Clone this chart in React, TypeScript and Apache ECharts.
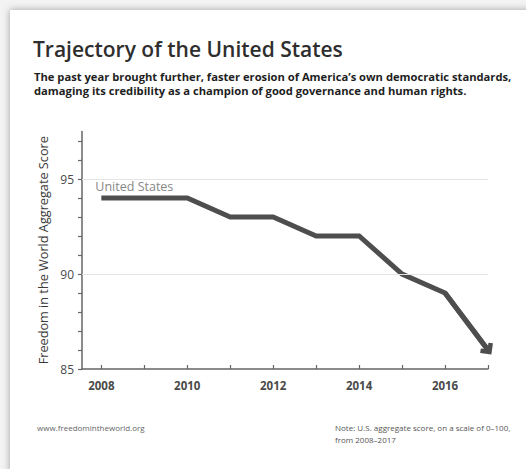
import React, { useEffect, useRef } from "react";
import * as echarts from "echarts";

// Freedom in the World aggregate score for the United States
const years = [2008, 2009, 2010, 2011, 2012, 2013, 2014, 2015, 2016, 2017];
const scores = [94, 94, 94, 93, 93, 92, 92, 90, 89, 86];

const yTickValues = [85, 86, 87, 88, 89, 90, 91, 92, 93, 94, 95, 96, 97];
const yLabelValues = [85, 90, 95];
const xTickValues = [2008, 2009, 2010, 2011, 2012, 2013, 2014, 2015, 2016, 2017];
const xLabelValues = [2008, 2010, 2012, 2014, 2016];
const gridLineValues = [90, 95];

const seriesName = "United States";
const titleText = "Trajectory of the United States";
const subtitleLines = [
  "The past year brought further, faster erosion of America\u2019s own democratic standards,",
  "damaging its credibility as a champion of good governance and human rights.",
];
const yAxisName = "Freedom in the World Aggregate Score";
const sourceText = "www.freedomintheworld.org";
const noteLines = [
  "Note: U.S. aggregate score, on a scale of 0\u2013100,",
  "from 2008\u20132017",
];

const FONT = "'Open Sans', Lato, sans-serif";
const LINE_COLOR = "#4e4e4e";

export default function App() {
  const ref = useRef<HTMLDivElement>(null);

  useEffect(() => {
    if (!ref.current) return;
    const chart = echarts.init(ref.current, undefined, { renderer: "svg" });

    const points = years.map((y, i) => [y, scores[i]]);
    const n = points.length;

    chart.setOption({
      animation: false,
      textStyle: { fontFamily: FONT },
      grid: { left: 82, right: 38, top: 131.5, bottom: 100, containLabel: false },
      graphic: [
        {
          type: "text",
          x: 33,
          y: 49,
          style: {
            text: titleText,
            font: `600 21px ${FONT}`,
            fill: "#2e2e2e",
            verticalAlign: "middle",
          },
        },
        {
          type: "text",
          x: 34,
          y: 76,
          style: {
            text: subtitleLines[0],
            font: `bold 11.2px ${FONT}`,
            fill: "#1e1e1e",
            verticalAlign: "middle",
          },
        },
        {
          type: "text",
          x: 34,
          y: 90,
          style: {
            text: subtitleLines[1],
            font: `bold 11.2px ${FONT}`,
            fill: "#1e1e1e",
            verticalAlign: "middle",
          },
        },
        {
          type: "text",
          x: 37,
          y: 427,
          style: {
            text: sourceText,
            font: `8px ${FONT}`,
            fill: "#666",
            verticalAlign: "middle",
          },
        },
        {
          type: "text",
          x: 335,
          y: 427,
          style: {
            text: noteLines[0],
            font: `8px ${FONT}`,
            fill: "#555",
            verticalAlign: "middle",
          },
        },
        {
          type: "text",
          x: 335,
          y: 439,
          style: {
            text: noteLines[1],
            font: `8px ${FONT}`,
            fill: "#555",
            verticalAlign: "middle",
          },
        },
      ],
      xAxis: {
        type: "value",
        min: 2007.55,
        max: 2017,
        splitLine: { show: false },
        axisLine: { lineStyle: { color: "#666", width: 1.5 } },
        axisTick: {
          show: true,
          inside: true,
          length: 4,
          customValues: xTickValues,
          lineStyle: { color: "#666", width: 1.2 },
        },
        axisLabel: {
          customValues: xLabelValues,
          color: "#4a4a4a",
          fontSize: 11.5,
          fontWeight: "bold",
          margin: 10,
          formatter: (v: number) => String(v),
        },
      },
      yAxis: {
        type: "value",
        min: 85,
        max: 97.5,
        name: yAxisName,
        nameLocation: "middle",
        nameGap: 32,
        nameTextStyle: { color: "#3a3a3a", fontSize: 12.7, fontFamily: FONT },
        splitLine: { show: false },
        axisLine: { show: true, lineStyle: { color: "#666", width: 1.5 } },
        axisTick: {
          show: true,
          length: 4,
          customValues: yTickValues,
          lineStyle: { color: "#666", width: 1.2 },
        },
        axisLabel: {
          customValues: yLabelValues,
          color: "#4a4a4a",
          fontSize: 12,
          margin: 8,
        },
      },
      series: [
        {
          type: "line",
          name: "grid",
          data: [],
          silent: true,
          markLine: {
            silent: true,
            symbol: "none",
            label: { show: false },
            lineStyle: { color: "#e4e4e4", width: 1, type: "solid" },
            emphasis: { disabled: true },
            data: gridLineValues.map((v) => ({ yAxis: v })),
          },
          // series name printed above its first point
          markPoint: {
            silent: true,
            symbol: "circle",
            symbolSize: 1,
            itemStyle: { color: "rgba(0,0,0,0)" },
            label: {
              show: true,
              formatter: seriesName,
              position: "top",
              align: "left",
              distance: 5,
              offset: [-6, 0],
              color: "#878787",
              fontSize: 12.5,
              fontFamily: FONT,
            },
            data: [{ coord: points[0] }],
          },
        },
        {
          type: "line",
          name: seriesName,
          data: points,
          symbol: "none",
          lineStyle: { color: LINE_COLOR, width: 5, join: "miter" },
          itemStyle: { color: LINE_COLOR },
          markLine: {
            silent: true,
            symbol: ["none", "path://M5,0 L10,5 L8,7 L5,4 L2,7 L0,5 Z"],
            symbolSize: [16, 11.2],
            label: { show: false },
            lineStyle: { color: LINE_COLOR, width: 5, type: "solid" },
            emphasis: { disabled: true },
            data: [[{ coord: points[n - 2] }, { coord: points[n - 1] }]],
          },
        },
      ],
    });

    return () => chart.dispose();
  }, []);

  return (
    <div
      style={{
        position: "fixed",
        left: 0,
        top: 0,
        width: 526,
        height: 469,
        overflow: "hidden",
        background: "#f3f3f3",
      }}
    >
      <div
        style={{
          position: "absolute",
          left: 10,
          top: 10,
          width: 560,
          height: 520,
          background: "#fff",
          boxShadow: "0 0 7px rgba(0,0,0,0.35)",
        }}
      />
      <div
        ref={ref}
        style={{ position: "absolute", left: 0, top: 0, width: 526, height: 469 }}
      />
    </div>
  );
}
